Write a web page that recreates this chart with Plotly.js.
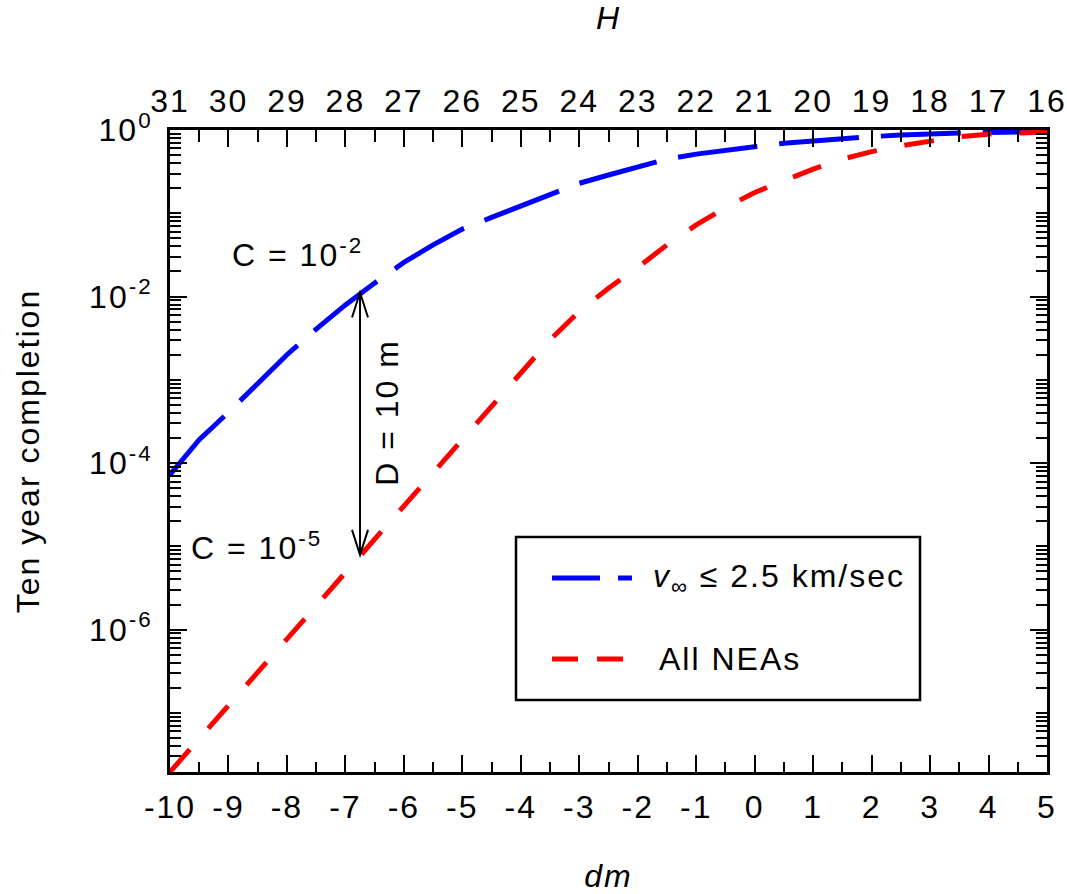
<!DOCTYPE html>
<html>
<head>
<meta charset="utf-8">
<script src="https://cdn.plot.ly/plotly-3.0.1.min.js"></script>
<style>
  html, body { margin: 0; padding: 0; background: #ffffff; }
  #chart { width: 1067px; height: 894px; }
  #chart text { letter-spacing: 2px; }
</style>
</head>
<body>
<div id="chart"></div>
<script>
// ---- data ----
var dmValues = [-10, -9.5, -9, -8.5, -8, -7.5, -7, -6.5, -6, -5.5, -5, -4.5, -4, -3.5, -3, -2.5,
                -2, -1.5, -1, -0.5, 0, 0.5, 1, 1.5, 2, 2.5, 3, 3.5, 4, 4.5, 5];
var completionSlow = [7.24e-5, 1.91e-4, 4.07e-4, 9.12e-4, 2.00e-3, 4.07e-3, 7.94e-3, 1.45e-2, 2.57e-2,
                      4.17e-2, 6.46e-2, 8.91e-2, 0.123, 0.170, 0.229, 0.288, 0.363, 0.447, 0.513,
                      0.575, 0.631, 0.692, 0.741, 0.776, 0.832, 0.871, 0.902, 0.923, 0.933, 0.944, 0.955];
var completionAll = [1.95e-8, 4.90e-8, 1.23e-7, 3.09e-7, 7.76e-7, 1.95e-6, 5.01e-6, 1.20e-5, 3.09e-5,
                     7.76e-5, 1.95e-4, 4.90e-4, 1.26e-3, 3.02e-3, 6.61e-3, 1.26e-2, 2.24e-2, 4.17e-2,
                     7.24e-2, 0.117, 0.178, 0.245, 0.339, 0.447, 0.550, 0.646, 0.741, 0.832, 0.891, 0.923, 0.944];
var seriesNames = ["<i>v</i><sub>∞</sub> ≤ 2.5 km/sec", "All NEAs"];

var xTickVals = [-10, -9, -8, -7, -6, -5, -4, -3, -2, -1, 0, 1, 2, 3, 4, 5];
var xTickText = ["-10", "-9", "-8", "-7", "-6", "-5", "-4", "-3", "-2", "-1", "0", "1", "2", "3", "4", "5"];
var hTickVals = [31, 30, 29, 28, 27, 26, 25, 24, 23, 22, 21, 20, 19, 18, 17, 16];
var hTickText = ["31", "30", "29", "28", "27", "26", "25", "24", "23", "22", "21", "20", "19", "18", "17", "16"];
var yTickVals = [1, 1e-2, 1e-4, 1e-6];
var yTickText = ["10<sup>0</sup>", "10<sup>-2</sup>", "10<sup>-4</sup>", "10<sup>-6</sup>"];

// annotation positions
var arrowDm = -6.75;
var arrowTopC = 1.12e-2;
var arrowBottomC = 7.9e-6;

// ---- minor tick positions ----
var xMinor = [];
for (var i = 0; i < xTickVals.length - 1; i++) xMinor.push(xTickVals[i] + 0.5);
var hMinor = [];
for (var j = 0; j < hTickVals.length - 1; j++) hMinor.push(hTickVals[j] - 0.5);
var yMinor = [];
for (var k = -8; k <= -1; k++) {
  for (var m = 1; m <= 9; m++) {
    if (m === 1 && (k % 2 === 0)) continue;
    yMinor.push(m * Math.pow(10, k));
  }
}

var FONT = "Liberation Sans, Arial, Helvetica, sans-serif";
var FS = 32;

var traces = [
  {
    x: dmValues, y: completionSlow, type: "scatter", mode: "lines",
    name: seriesNames[0], showlegend: false, hoverinfo: "skip",
    line: { color: "#0000ff", width: 5, dash: "80px,22px" }
  },
  {
    x: dmValues, y: completionAll, type: "scatter", mode: "lines",
    name: seriesNames[1], showlegend: false, hoverinfo: "skip",
    line: { color: "#ff0000", width: 5, dash: "30px,28px" }
  },
  // empty trace that only activates the top H axis
  { x: [], y: [], type: "scatter", mode: "lines", xaxis: "x2", yaxis: "y",
    showlegend: false, hoverinfo: "skip", name: "H axis" }
];

function px2paperX(p) { return (p - 170) / 877; }
function px2paperY(p) { return (772 - p) / 642; }

var layout = {
  width: 1067, height: 894,
  margin: { l: 170, r: 20, t: 130, b: 122 },
  paper_bgcolor: "#ffffff", plot_bgcolor: "#ffffff",
  font: { family: FONT, size: FS, color: "#000000" },
  showlegend: false,
  xaxis: {
    range: [-10, 5], tickmode: "array", tickvals: xTickVals, ticktext: xTickText,
    ticks: "inside", ticklen: 17, tickwidth: 2, tickcolor: "#000",
    minor: { tickmode: "array", tickvals: xMinor, ticks: "inside", ticklen: 10, tickwidth: 2, tickcolor: "#000", showgrid: false },
    showline: true, linewidth: 3, linecolor: "#000", mirror: true,
    showgrid: false, zeroline: false, ticklabelstandoff: 5,
    tickfont: { family: FONT, size: FS },
    title: { text: "<i>dm</i>", font: { family: FONT, size: FS }, standoff: 67 }
  },
  xaxis2: {
    overlaying: "x", side: "top", anchor: "y",
    range: [31, 16], tickmode: "array", tickvals: hTickVals, ticktext: hTickText,
    ticks: "inside", ticklen: 17, tickwidth: 2, tickcolor: "#000",
    minor: { tickmode: "array", tickvals: hMinor, ticks: "inside", ticklen: 12, tickwidth: 2, tickcolor: "#000", showgrid: false },
    showline: true, linewidth: 3, linecolor: "#000",
    showgrid: false, zeroline: false, ticklabelstandoff: 2,
    tickfont: { family: FONT, size: FS },
    title: { text: "<i>H</i>", font: { family: FONT, size: FS }, standoff: 60 }
  },
  yaxis: {
    type: "log", range: [-7.71, 0],
    tickmode: "array", tickvals: yTickVals, ticktext: yTickText,
    ticks: "inside", ticklen: 17, tickwidth: 2, tickcolor: "#000",
    minor: { tickmode: "array", tickvals: yMinor, ticks: "inside", ticklen: 11, tickwidth: 2, tickcolor: "#000", showgrid: false },
    showline: true, linewidth: 3, linecolor: "#000", mirror: "ticks",
    showgrid: false, zeroline: false, ticklabelstandoff: 8,
    tickfont: { family: FONT, size: FS },
    title: { text: "Ten year completion", font: { family: FONT, size: FS }, standoff: 48 }
  },
  shapes: [
    { type: "line", xref: "x", yref: "y", x0: arrowDm, x1: arrowDm, y0: arrowTopC, y1: arrowBottomC,
      line: { color: "#000", width: 2 } },
    { type: "path", xref: "x", yref: "y", xsizemode: "pixel", ysizemode: "pixel",
      xanchor: arrowDm, yanchor: arrowTopC, path: "M-8,-25L0,0L8,-25",
      line: { color: "#000", width: 2 }, fillcolor: "rgba(0,0,0,0)" },
    { type: "path", xref: "x", yref: "y", xsizemode: "pixel", ysizemode: "pixel",
      xanchor: arrowDm, yanchor: arrowBottomC, path: "M-8,25L0,0L8,25",
      line: { color: "#000", width: 2 }, fillcolor: "rgba(0,0,0,0)" },
    { type: "rect", xref: "paper", yref: "paper",
      x0: px2paperX(516), x1: px2paperX(920), y0: px2paperY(700), y1: px2paperY(537),
      line: { color: "#000", width: 2.5 }, fillcolor: "#ffffff", layer: "above" },
    { type: "line", xref: "paper", yref: "paper",
      x0: px2paperX(552), x1: px2paperX(632), y0: px2paperY(578), y1: px2paperY(578),
      line: { color: "#0000ff", width: 5, dash: "48px,18px,14px,100px" } },
    { type: "line", xref: "paper", yref: "paper",
      x0: px2paperX(552), x1: px2paperX(623), y0: px2paperY(659), y1: px2paperY(659),
      line: { color: "#ff0000", width: 5, dash: "26px,19px" } }
  ],
  annotations: [
    { xref: "x", yref: "y", x: -8.84, y: -1.48, xanchor: "left", yanchor: "middle",
      text: "C = 10<sup>-2</sup>", showarrow: false, font: { family: FONT, size: FS } },
    { xref: "x", yref: "y", x: -9.54, y: -5.00, xanchor: "left", yanchor: "middle",
      text: "C = 10<sup>-5</sup>", showarrow: false, font: { family: FONT, size: FS } },
    { xref: "x", yref: "y", x: -6.29, y: -3.385, xanchor: "center", yanchor: "middle",
      text: "D = 10 m", textangle: -90, showarrow: false, font: { family: FONT, size: FS } },
    { xref: "paper", yref: "paper", x: px2paperX(666), y: px2paperY(578), xanchor: "left", yanchor: "middle",
      text: seriesNames[0], showarrow: false, font: { family: FONT, size: FS } },
    { xref: "paper", yref: "paper", x: px2paperX(665), y: px2paperY(659), xanchor: "left", yanchor: "middle",
      text: seriesNames[1], showarrow: false, font: { family: FONT, size: FS } }
  ]
};

Plotly.newPlot("chart", traces, layout, { displayModeBar: false, staticPlot: true });
</script>
</body>
</html>
